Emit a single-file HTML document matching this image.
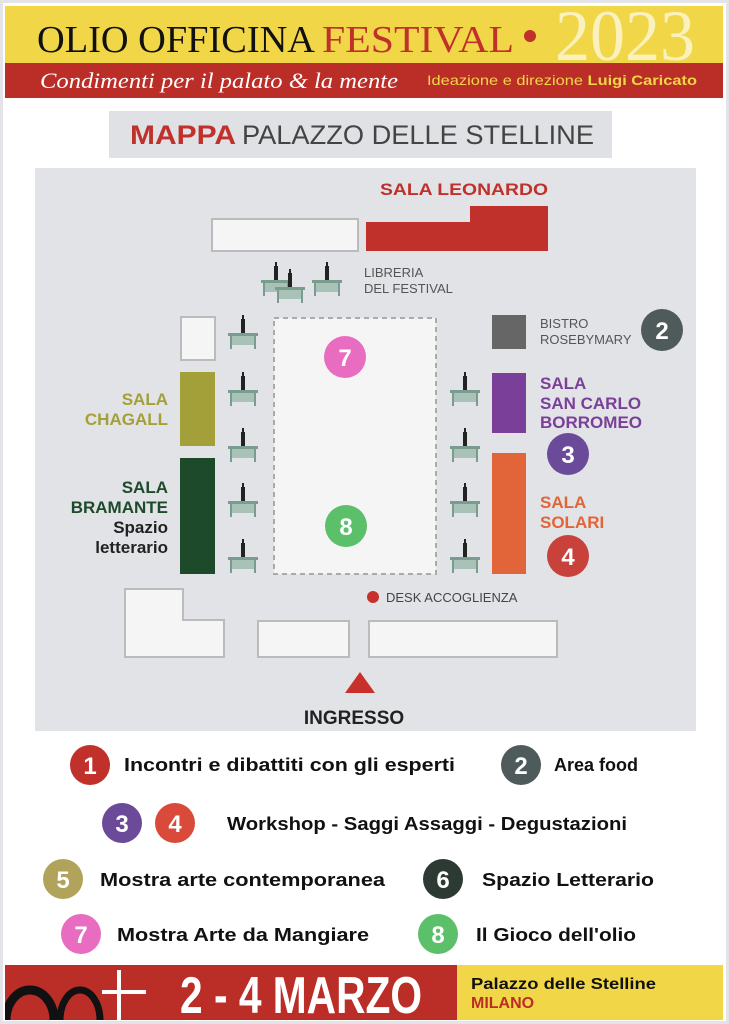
<!DOCTYPE html>
<html><head><meta charset="utf-8"><style>
html,body{margin:0;padding:0;background:#fff;width:729px;height:1024px;overflow:hidden;}
svg{display:block;overflow:hidden;}
text{font-family:"Liberation Sans",sans-serif;}
.s{font-family:"Liberation Serif",serif;}
</style></head><body>
<svg width="729" height="1024" viewBox="0 0 729 1024" xmlns="http://www.w3.org/2000/svg">
<defs>
<g id="t"><rect x="-15" y="0" width="30" height="3" fill="#7a9c8f"/><rect x="-13" y="0" width="2" height="16" fill="#7a9c8f"/><rect x="11" y="0" width="2" height="16" fill="#7a9c8f"/><rect x="-11" y="3" width="22" height="9" fill="#a9c2b7"/><rect x="-2" y="-14" width="4" height="14" fill="#222"/><rect x="-1" y="-18" width="2" height="4" fill="#222"/></g>
<clipPath id="fc"><rect x="5" y="965" width="452" height="55"/></clipPath>
</defs>
<rect width="729" height="1024" fill="#fff"/>
<rect x="0" y="0" width="729" height="1024" fill="none" stroke="#e4e4e8" stroke-width="6"/>
<rect x="5" y="6" width="718" height="57" fill="#f1d748"/>
<text x="555" y="60" class="s" font-size="72" fill="#fbf1bc" textLength="140" lengthAdjust="spacingAndGlyphs">2023</text>
<text x="37" y="52" class="s" font-size="38" fill="#111" textLength="278" lengthAdjust="spacingAndGlyphs">OLIO OFFICINA</text>
<text x="322" y="52" class="s" font-size="38" fill="#c0312b" textLength="192" lengthAdjust="spacingAndGlyphs">FESTIVAL</text>
<circle cx="530" cy="36" r="6" fill="#c0312b"/>
<rect x="5" y="63" width="718" height="35" fill="#bb2d27"/>
<text x="40" y="88" class="s" font-style="italic" font-size="22" fill="#fff" textLength="358" lengthAdjust="spacingAndGlyphs">Condimenti per il palato &amp; la mente</text>
<text x="427" y="85" font-size="14" fill="#f1d748" textLength="270" lengthAdjust="spacingAndGlyphs">Ideazione e direzione <tspan font-weight="bold">Luigi Caricato</tspan></text>
<rect x="109" y="111" width="503" height="47" fill="#dfe1e4"/>
<text x="130" y="144" font-size="27" font-weight="bold" fill="#c0312b" textLength="106" lengthAdjust="spacingAndGlyphs">MAPPA</text>
<text x="242" y="144" font-size="27" fill="#444" textLength="352" lengthAdjust="spacingAndGlyphs">PALAZZO DELLE STELLINE</text>
<rect x="35" y="168" width="661" height="563" fill="#e1e3e6"/>
<text x="380" y="195" font-size="17" font-weight="bold" fill="#c0312b" textLength="168" lengthAdjust="spacingAndGlyphs">SALA LEONARDO</text>
<path d="M366 222H470V206H548V251H366Z" fill="#c0312b"/>
<rect x="212" y="219" width="146" height="32" fill="#f5f5f5" stroke="#bbb" stroke-width="2"/>
<text x="364" y="277" font-size="13" fill="#555">LIBRERIA</text>
<text x="364" y="293" font-size="13" fill="#555">DEL FESTIVAL</text>
<rect x="181" y="317" width="34" height="43" fill="#f5f5f5" stroke="#bbb" stroke-width="2"/>
<rect x="274" y="318" width="162" height="256" fill="#f5f5f5" stroke="#aaa" stroke-width="2" stroke-dasharray="5,4"/>
<use href="#t" x="276" y="280"/><use href="#t" x="290" y="287"/><use href="#t" x="327" y="280"/>
<use href="#t" x="243" y="333"/><use href="#t" x="243" y="390"/><use href="#t" x="243" y="446"/><use href="#t" x="243" y="501"/><use href="#t" x="243" y="557"/>
<use href="#t" x="465" y="390"/><use href="#t" x="465" y="446"/><use href="#t" x="465" y="501"/><use href="#t" x="465" y="557"/>
<rect x="492" y="315" width="34" height="34" fill="#666"/>
<text x="540" y="328" font-size="13" fill="#555">BISTRO</text>
<text x="540" y="344" font-size="13" fill="#555">ROSEBYMARY</text>
<rect x="180" y="372" width="35" height="74" fill="#a3a03a"/>
<g font-size="17" font-weight="bold" fill="#a3a03a" text-anchor="end"><text x="168" y="405">SALA</text><text x="168" y="425">CHAGALL</text></g>
<rect x="180" y="458" width="35" height="116" fill="#1e4a2c"/>
<g font-size="17" font-weight="bold" text-anchor="end"><text x="168" y="493" fill="#1e4a2c">SALA</text><text x="168" y="513" fill="#1e4a2c">BRAMANTE</text><text x="168" y="533" fill="#222">Spazio</text><text x="168" y="553" fill="#222">letterario</text></g>
<rect x="492" y="373" width="34" height="60" fill="#7a3f98"/>
<g font-size="17" font-weight="bold" fill="#7a3f98"><text x="540" y="389">SALA</text><text x="540" y="409">SAN CARLO</text><text x="540" y="428">BORROMEO</text></g>
<rect x="492" y="453" width="34" height="121" fill="#e2653a"/>
<g font-size="17" font-weight="bold" fill="#e2653a"><text x="540" y="508">SALA</text><text x="540" y="528">SOLARI</text></g>
<circle cx="373" cy="597" r="6" fill="#c8312b"/>
<text x="386" y="602" font-size="13" fill="#444">DESK ACCOGLIENZA</text>
<path d="M125 589H183V620H224V657H125Z" fill="#f5f5f5" stroke="#bbb" stroke-width="2"/>
<rect x="258" y="621" width="91" height="36" fill="#f5f5f5" stroke="#bbb" stroke-width="2"/>
<rect x="369" y="621" width="188" height="36" fill="#f5f5f5" stroke="#bbb" stroke-width="2"/>
<path d="M360 672L375 693H345Z" fill="#c8312b"/>
<text x="354" y="724" font-size="19" font-weight="bold" fill="#222" text-anchor="middle">INGRESSO</text>
<g font-size="24" font-weight="bold" fill="#fff" text-anchor="middle">
<circle cx="345" cy="357" r="21" fill="#e86cc0"/><text x="345" y="366">7</text>
<circle cx="346" cy="526" r="21" fill="#5cbf6a"/><text x="346" y="535">8</text>
<circle cx="662" cy="330" r="21" fill="#4f5b5a"/><text x="662" y="339">2</text>
<circle cx="568" cy="454" r="21" fill="#6b4a9a"/><text x="568" y="463">3</text>
<circle cx="568" cy="556" r="21" fill="#c8413a"/><text x="568" y="565">4</text>
</g>
<g font-size="24" font-weight="bold" fill="#fff" text-anchor="middle">
<circle cx="90" cy="765" r="20" fill="#c0312b"/><text x="90" y="774">1</text>
<circle cx="521" cy="765" r="20" fill="#4f5b5a"/><text x="521" y="774">2</text>
<circle cx="122" cy="823" r="20" fill="#6b4a9a"/><text x="122" y="832">3</text>
<circle cx="175" cy="823" r="20" fill="#d94a3a"/><text x="175" y="832">4</text>
<circle cx="63" cy="879" r="20" fill="#b2a35a"/><text x="63" y="888">5</text>
<circle cx="443" cy="879" r="20" fill="#2c3a33"/><text x="443" y="888">6</text>
<circle cx="81" cy="934" r="20" fill="#e86cc0"/><text x="81" y="943">7</text>
<circle cx="438" cy="934" r="20" fill="#5cbf6a"/><text x="438" y="943">8</text>
</g>
<g font-size="18" font-weight="bold" fill="#111">
<text x="124" y="771" textLength="331" lengthAdjust="spacingAndGlyphs">Incontri e dibattiti con gli esperti</text>
<text x="554" y="771">Area food</text>
<text x="227" y="830" textLength="400" lengthAdjust="spacingAndGlyphs">Workshop - Saggi Assaggi - Degustazioni</text>
<text x="100" y="886" textLength="285" lengthAdjust="spacingAndGlyphs">Mostra arte contemporanea</text>
<text x="482" y="886" textLength="172" lengthAdjust="spacingAndGlyphs">Spazio Letterario</text>
<text x="117" y="941" textLength="252" lengthAdjust="spacingAndGlyphs">Mostra Arte da Mangiare</text>
<text x="476" y="941" textLength="160" lengthAdjust="spacingAndGlyphs">Il Gioco dell'olio</text>
</g>
<rect x="5" y="965" width="452" height="55" fill="#bb2d27"/>
<rect x="457" y="965" width="266" height="55" fill="#f1d748"/>
<g clip-path="url(#fc)" fill="none" stroke="#111">
<ellipse cx="30" cy="1020" rx="24" ry="30" stroke-width="9"/>
<ellipse cx="80" cy="1020" rx="20" ry="30" stroke-width="7"/>
</g>
<rect x="102" y="990" width="44" height="4" fill="#fff"/><rect x="117" y="970" width="4" height="50" fill="#fff"/>
<text x="180" y="1013" font-size="52" font-weight="bold" fill="#fff" textLength="242" lengthAdjust="spacingAndGlyphs">2 - 4 MARZO</text>
<text x="471" y="989" font-size="16" font-weight="bold" fill="#111" textLength="185" lengthAdjust="spacingAndGlyphs">Palazzo delle Stelline</text>
<text x="471" y="1008" font-size="16" font-weight="bold" fill="#bb2d27">MILANO</text>
</svg>
</body></html>
